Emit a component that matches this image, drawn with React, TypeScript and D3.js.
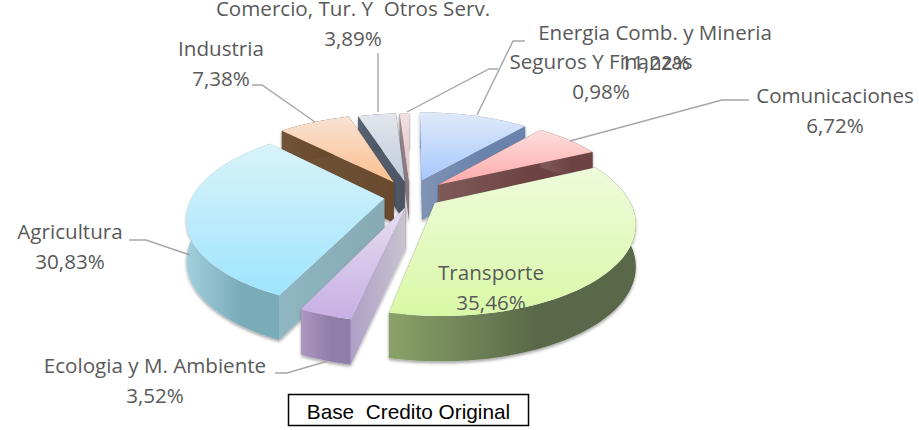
import React from "react";
import * as d3 from "d3";

const W = 919, H = 430;

const categories = ["Energia Comb. y Mineria", "Comunicaciones", "Transporte", "Ecologia y M. Ambiente", "Agricultura", "Industria", "Comercio, Tur. Y  Otros Serv.", "Seguros Y Finanzas"];
const shares = [11.22, 6.72, 35.46, 3.52, 30.83, 7.38, 3.89, 0.98];
const shareLabels = ["11,22%", "6,72%", "35,46%", "3,52%", "30,83%", "7,38%", "3,89%", "0,98%"];
const explodes = [0.185, 0.19, 0.155, 0.15, 0.135, 0.17, 0.155, 0.155];
const nudgeX = [0, 0, 1, 5, 0, 0, 0, 0];
const nudgeY = [0, 0, 0, 0, 2, 0, 0, 0];
const paintOrder = [7, 6, 5, 4, 0, 1, 2, 3];
const topLight = ["#dfe9f8", "#fbdedd", "#eefbdc", "#e6def1", "#d9f3f9", "#f8e2d3", "#e3e6ec", "#f2dfe1"];
const topDeep = ["#a8c8fd", "#ffa9a9", "#d9f8a6", "#c7afe3", "#9fe4fd", "#fcbf8e", "#bfcbdc", "#e0bfc0"];
const wallLight = ["#7f94b4", "#7f5a5a", "#8aa268", "#ad97c0", "#a2d0dd", "#705438", "#5a6373", "#9a8a8e"];
const wallDark = ["#6a83ac", "#6d4343", "#59684a", "#8f7ea8", "#79abb8", "#694a2e", "#4c5462", "#85767a"];
const sideLeft = ["#b7d0e0", "#7f5a5a", "#8aa268", "#ae9fc6", "#8fb6c2", "#705438", "#5a6373", "#9a8a8e"];
const sideRight = ["#6a83ac", "#6d4343", "#59684a", "#c8c3d0", "#87aab4", "#694a2e", "#4c5462", "#85767a"];

const labelLines = [
  { i: 0, x: 655, y: 40 }, { i: 1, x: 835, y: 103 }, { i: 2, x: 491, y: 280 }, { i: 3, x: 155, y: 373 },
  { i: 4, x: 70, y: 239 }, { i: 5, x: 221, y: 56 }, { i: 6, x: 353, y: 16 }, { i: 7, x: 601, y: 69 },
];
const leaders: [number, number][][] = [
  [[477, 115], [513, 41], [525, 41]],
  [[570, 141], [722, 100], [749, 100]],
  [[328, 361], [287, 373], [275, 373]],
  [[190, 255], [146, 240], [129, 240]],
  [[315, 122], [262, 85], [252, 85]],
  [[378, 112], [378, 53]],
  [[407, 112], [489, 69], [498, 69]],
];

const CX = 410, CY = 194.5, RX = 192, RY = 86.5, K = 0.2;
const persp = (V: number) => 1 / (1 - K * V);
const project = (U: number, V: number) => {
  const s = persp(V);
  return [CX + RX * U * s, CY + RY * V * s] as [number, number];
};
const depth = (V: number) => 41 + 4 * V;

const pieGen = d3.pie<number>().sort(null).startAngle(0).endAngle(2 * Math.PI);
const arcs = pieGen(shares);
const line = d3.line();

function slicePaths(i: number) {
  const a = arcs[i];
  const mid = (a.startAngle + a.endAngle) / 2;
  const oU = explodes[i] * Math.sin(mid), oV = -explodes[i] * Math.cos(mid);
  const steps = Math.max(4, Math.ceil((a.endAngle - a.startAngle) / 0.03));
  const place = (U: number, V: number) => {
    const p = project(U, V);
    return [p[0] + nudgeX[i], p[1] + nudgeY[i]] as [number, number];
  };
  const world = d3.range(steps + 1).map((k) => {
    const t = a.startAngle + ((a.endAngle - a.startAngle) * k) / steps;
    return [oU + Math.sin(t), oV - Math.cos(t)] as [number, number];
  });
  const rim = world.map(([U, V]) => place(U, V));
  const rimLow = world.map(([U, V]) => {
    const p = place(U, V);
    return [p[0], p[1] + depth(V)] as [number, number];
  });
  const apex = place(oU, oV);
  const apexLow: [number, number] = [apex[0], apex[1] + depth(oV)];
  return {
    mid,
    top: line([apex, ...rim])! + "Z",
    outer: line([...rim, ...rimLow.slice().reverse()])! + "Z",
    startWall: line([apex, rim[0], rimLow[0], apexLow])! + "Z",
    endWall: line([apex, rim[steps], rimLow[steps], apexLow])! + "Z",
  };
}

export default function App() {
  const font = '"Open Sans", sans-serif';
  return (
    <svg width={W} height={H} viewBox={`0 0 ${W} ${H}`} style={{ position: "absolute", left: 0, top: 0, background: "#fff" }}>
      <defs>
        <filter id="sh" x="-10%" y="-10%" width="120%" height="125%">
          <feDropShadow dx="0" dy="2" stdDeviation="1.5" floodColor="#000" floodOpacity="0.35" />
        </filter>
        {categories.map((_, i) => (
          <React.Fragment key={i}>
            <linearGradient id={`t${i}`} x1="0" y1="0" x2="0" y2="1">
              <stop offset="0" stopColor={topLight[i]} />
              <stop offset="1" stopColor={topDeep[i]} />
            </linearGradient>
            <linearGradient id={`w${i}`} x1="0" y1="0" x2="1" y2="0">
              <stop offset="0" stopColor={wallLight[i]} />
              <stop offset="0.6" stopColor={wallDark[i]} />
              <stop offset="1" stopColor={wallDark[i]} />
            </linearGradient>
            <linearGradient id={`s${i}`} x1="0" y1="0" x2="1" y2="0">
              <stop offset="0" stopColor={sideLeft[i]} />
              <stop offset="1" stopColor={sideRight[i]} />
            </linearGradient>
          </React.Fragment>
        ))}
      </defs>
      {paintOrder.map((i) => {
        const p = slicePaths(i);
        const rightSide = p.mid < Math.PI;
        return (
          <g key={i}>
            <g filter="url(#sh)">
              {rightSide ? (
                <>
                  <path d={p.startWall} fill={`url(#s${i})`} />
                  <path d={p.endWall} fill={`url(#w${i})`} />
                </>
              ) : (
                <>
                  <path d={p.endWall} fill={`url(#w${i})`} />
                  <path d={p.startWall} fill={`url(#s${i})`} />
                </>
              )}
              <path d={p.outer} fill={`url(#w${i})`} />
            </g>
            <path d={p.top} fill={`url(#t${i})`} />
          </g>
        );
      })}
      {leaders.map((pts, k) => (
        <path key={k} d={line(pts)!} fill="none" stroke="#a6a6a6" strokeWidth={1.4} />
      ))}
      {labelLines.map(({ i, x, y }) => (
        <text key={i} textAnchor="middle" fontFamily={font} fontSize={20.6} fill="#595959">
          <tspan x={x} y={y} style={{ whiteSpace: "pre" }}>{categories[i]}</tspan>
          <tspan x={x} y={y + 29.5}>{shareLabels[i]}</tspan>
        </text>
      ))}
      <rect x={288.5} y={394.5} width={240} height={31} fill="#fff" stroke="#000" strokeWidth={1.5} />
      <text x={408.5} y={419} textAnchor="middle" fontFamily='"Liberation Sans", Arial, sans-serif' fontSize={20.8} fill="#000" style={{ whiteSpace: "pre" }}>Base  Credito Original</text>
    </svg>
  );
}
